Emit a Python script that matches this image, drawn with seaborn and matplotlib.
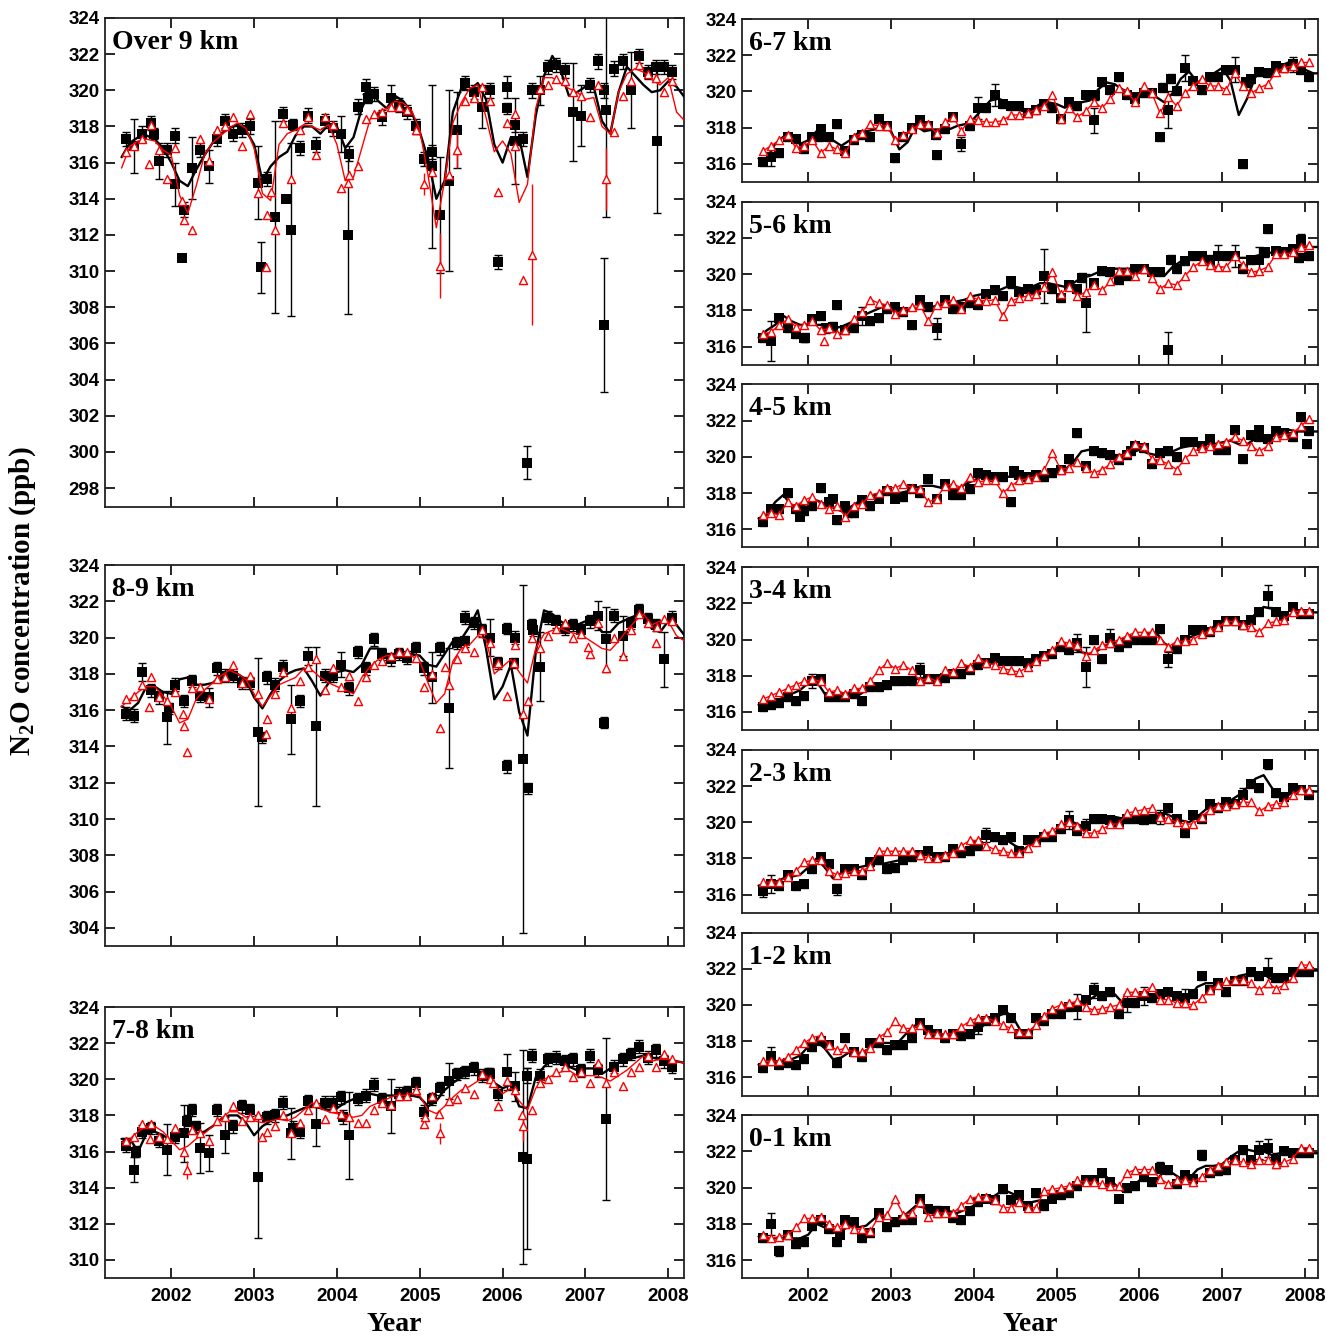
import numpy as np
import matplotlib
matplotlib.use("Agg")
import matplotlib.pyplot as plt
import seaborn as sns

# time axes (decimal year): observations and fitted curves
t_obs = np.round(np.arange(2001.45, 2008.06, 0.1), 2)
t_fit = np.round(np.arange(2001.4, 2008.21, 0.1), 2)

# ---------------- Over 9 km ----------------
over9_black = [317.3, 316.9, 317.6, 318.2, 316.1, 316.7, 317.5, 313.4, 315.7, 316.7,
               315.8, 317.3, 318.3, 317.6, 317.8, 318.0, 314.9, 315.1, 313.0, 318.7,
               312.3, 316.8, 318.6, 317.0, 318.3, 317.9, 317.6, 316.5, 319.1, 320.2,
               319.8, 318.5, 319.6, 319.2, 318.8, 318.0, 316.2, 315.8, 313.1, 315.0,
               317.8, 320.4, 319.9, 319.1, 320.0, 310.5, 320.2, 318.1, 317.3, 320.0,
               320.0, 321.3, 321.4, 321.1, 318.8, 318.6, 320.3, 321.6, 318.9, 321.2,
               321.6, 320.0, 321.9, 321.0, 321.3, 321.3, 321.0]
over9_err = {1: 1.5, 4: 1.0, 8: 1.7, 10: 0.9, 16: 2.0, 18: 5.3, 20: 4.8, 26: 1.0, 32: 0.7,
             37: 4.5, 38: 3.2, 39: 5.0, 40: 2.1, 43: 1.2, 46: 0.6, 50: 0.8, 54: 2.7, 55: 1.7,
             58: 5.9, 61: 2.1}
over9_extra = [(2001.79, 317.6, 0.3), (2002.04, 314.8, 1.2), (2002.13, 310.7, 0.0),
               (2003.08, 310.2, 1.4), (2003.39, 314.0, 0.0), (2003.47, 318.1, 0.3),
               (2004.13, 312.0, 4.4), (2004.37, 319.6, 0.3), (2005.15, 316.6, 0.4),
               (2006.05, 319.0, 0.3), (2006.15, 317.2, 2.4), (2006.30, 299.4, 0.9),
               (2007.22, 320.0, 0.4), (2007.22, 307.0, 3.7), (2007.86, 317.2, 4.0)]
over9_red = [316.6, 316.9, 317.3, 318.1, 316.7, 315.1, 316.8, 312.8, 312.3, 317.3,
             316.1, 317.8, 318.0, 318.5, 316.9, 318.7, 314.3, 313.1, 312.3, 318.2,
             315.1, 317.8, 318.5, 316.4, 318.5, 318.1, 314.6, 315.3, 315.8, 318.4,
             318.7, 318.8, 319.1, 319.1, 318.9, 317.8, 314.8, 315.5, 310.3, 315.3,
             316.7, 319.4, 319.6, 320.2, 319.4, 314.4, 318.2, 316.9, 309.5, 310.9,
             320.1, 320.3, 320.6, 320.5, 319.9, 319.7, 318.5, 320.3, 315.1, 317.7,
             319.7, 320.5, 321.4, 320.9, 320.7, 319.9, 320.5]
over9_red_err = {36: 0.6, 38: 1.8, 40: 1.0, 49: 3.9, 58: 1.7}
over9_red_extra = [(2001.73, 315.9, 0.0), (2002.13, 313.9, 0.0), (2003.14, 310.2, 0.0),
                   (2003.20, 314.4, 0.0), (2004.13, 314.9, 0.0), (2006.15, 318.7, 0.0)]
over9_fit = [316.3, 317.1, 317.4, 317.5, 317.3, 316.8, 316.0, 315.0, 314.7, 315.6,
             316.4, 317.1, 317.6, 317.9, 318.1, 317.8, 317.0, 315.0, 315.8, 316.3,
             316.6, 317.5, 318.0, 318.0, 317.6, 318.1, 318.0, 316.8, 317.4, 319.0,
             320.0, 319.4, 319.0, 319.7, 319.4, 318.8, 317.7, 316.2, 314.0, 315.0,
             318.8, 320.1, 320.0, 320.4, 319.5, 317.0, 316.0, 317.4, 317.4, 315.2,
             318.6, 320.8, 321.9, 321.1, 319.7, 319.9, 320.2, 320.2, 318.3, 317.6,
             319.9, 321.3, 320.8, 320.3, 319.9, 320.0, 320.5, 320.2, 319.6]
over9_redfit = [315.7, 316.9, 317.2, 317.3, 317.2, 316.7, 316.4, 314.2, 313.2, 314.7,
                316.4, 317.1, 317.5, 317.9, 318.2, 317.9, 316.8, 314.3, 313.9, 317.0,
                317.6, 317.8, 318.1, 318.0, 317.8, 318.1, 317.0, 315.0, 315.2, 316.8,
                318.4, 318.8, 319.0, 319.4, 319.3, 318.9, 317.8, 315.3, 312.4, 315.0,
                318.2, 319.3, 320.1, 320.3, 318.5, 316.6, 317.2, 316.5, 313.8, 314.8,
                319.0, 320.7, 320.7, 320.4, 320.1, 319.9, 319.5, 319.6, 318.0, 317.6,
                319.9, 320.9, 321.2, 321.0, 320.6, 320.3, 320.7, 318.8, 318.3]

# ---------------- 8-9 km ----------------
km89_black = [315.8, 315.7, 318.1, 317.1, 316.7, 315.6, 317.4, 316.5, 317.6, 316.8,
              316.7, 318.3, 317.9, 317.9, 317.5, 317.5, 314.8, 317.8, 317.4, 318.4,
              315.5, 316.5, 319.0, 315.1, 317.9, 317.9, 318.5, 317.2, 319.2, 318.3,
              319.9, 319.1, 318.8, 319.1, 318.9, 319.4, 318.3, 317.8, 319.4, 316.1,
              319.7, 321.1, 320.8, 320.4, 320.0, 318.6, 312.9, 320.0, 313.3, 320.7,
              318.4, 321.1, 320.9, 320.5, 320.7, 320.4, 320.9, 321.2, 319.9, 321.2,
              320.1, 320.8, 321.5, 321.0, 320.7, 318.8, 321.1]
km89_err = {2: 0.5, 5: 1.45, 10: 0.5, 16: 4.1, 20: 1.9, 22: 0.5, 23: 4.4, 26: 0.7, 37: 1.4,
            39: 3.3, 44: 1.0, 48: 9.6, 50: 1.9, 57: 0.8, 58: 1.8, 60: 1.1, 65: 1.5}
km89_extra = [(2001.97, 316.1, 0.3), (2003.09, 314.5, 0.3), (2005.55, 319.8, 0.3),
              (2006.05, 320.5, 0.3), (2006.14, 318.6, 0.3), (2006.31, 311.7, 0.3),
              (2006.37, 320.4, 0.3), (2007.22, 315.3, 0.3)]
km89_red = [316.6, 316.8, 317.4, 317.8, 316.7, 316.5, 317.0, 315.1, 317.2, 317.3,
            316.6, 317.7, 317.8, 318.5, 317.5, 317.9, 316.9, 315.5, 316.9, 318.1,
            316.1, 317.6, 318.4, 318.8, 317.1, 318.3, 317.3, 317.9, 316.5, 317.8,
            318.5, 318.7, 319.0, 319.2, 319.2, 318.9, 317.3, 318.0, 315.0, 317.4,
            318.8, 319.4, 319.2, 320.4, 319.7, 318.6, 316.8, 319.6, 315.8, 320.0,
            319.4, 320.1, 320.5, 320.8, 320.0, 320.2, 319.1, 320.8, 318.3, 320.0,
            319.0, 320.4, 321.3, 320.8, 319.7, 321.0, 320.9]
km89_red_extra = [(2001.73, 316.2, 0.0), (2002.14, 315.8, 0.0), (2002.19, 313.7, 0.0),
                  (2003.14, 314.7, 0.0), (2005.30, 318.4, 0.0), (2006.14, 318.6, 0.0),
                  (2006.31, 316.5, 0.0), (2007.03, 319.5, 0.0), (2007.86, 320.6, 0.0)]
km89_fit = [316.2, 316.0, 316.4, 317.3, 317.3, 317.0, 316.9, 317.7, 317.8, 317.4,
            317.4, 317.5, 317.9, 318.2, 318.0, 317.7, 316.7, 316.1, 316.9, 317.6,
            318.0, 318.2, 318.3, 317.6, 316.8, 317.5, 318.1, 318.2, 318.1, 318.5,
            319.4, 319.4, 319.1, 319.0, 319.1, 319.1, 319.0, 318.5, 318.4, 319.1,
            319.8, 319.9, 320.6, 321.5, 319.4, 316.6, 317.3, 318.5, 315.9, 314.6,
            319.2, 321.5, 321.3, 320.9, 320.6, 320.7, 320.9, 321.0, 320.3, 320.3,
            320.8, 321.0, 321.2, 321.1, 320.5, 320.3, 320.9, 320.7, 320.1]
km89_redfit = [316.2, 316.6, 317.0, 317.3, 317.3, 316.8, 316.2, 315.3, 315.5, 316.6,
               317.1, 317.5, 317.9, 318.2, 318.0, 317.7, 316.9, 316.2, 316.8, 317.4,
               317.6, 317.8, 318.3, 318.2, 317.8, 317.5, 317.3, 317.1, 316.9, 317.8,
               318.4, 318.8, 319.0, 319.0, 319.1, 319.0, 318.7, 317.5, 316.4, 316.9,
               318.7, 319.4, 319.6, 320.1, 319.9, 318.0, 318.4, 318.8, 318.1, 317.5,
               319.4, 320.2, 320.4, 320.5, 320.3, 320.2, 320.0, 319.7, 319.4, 319.3,
               319.8, 320.4, 320.9, 321.3, 320.7, 320.9, 320.9, 320.1, 319.8]

# ---------------- 7-8 km ----------------
km78_black = [316.3, 315.0, 317.1, 317.3, 316.6, 316.1, 316.8, 317.0, 318.3, 316.2,
              315.9, 318.3, 316.9, 317.4, 318.5, 318.3, 314.6, 317.9, 318.0, 318.7,
              317.0, 317.1, 318.8, 317.5, 318.7, 318.7, 319.0, 316.9, 318.9, 319.1,
              319.7, 318.9, 318.5, 319.2, 319.3, 319.8, 318.2, 318.9, 319.5, 319.9,
              320.3, 320.4, 320.6, 320.2, 320.3, 319.2, 320.4, 319.6, 315.7, 321.3,
              320.2, 321.1, 321.2, 321.0, 321.1, 320.5, 321.3, 320.5, 317.8, 320.7,
              321.1, 321.4, 321.8, 321.2, 321.6, 321.0, 320.7]
km78_err = {1: 0.7, 5: 1.4, 7: 1.6, 9: 1.4, 10: 1.0, 12: 1.0, 16: 3.4, 20: 1.4, 23: 1.2,
            27: 2.4, 32: 1.5, 39: 1.0, 46: 1.0, 47: 0.8, 48: 5.9, 58: 4.5}
km78_extra = [(2001.57, 316.0, 0.3), (2002.19, 317.7, 0.3), (2002.30, 317.4, 0.3),
              (2003.47, 317.3, 0.4), (2004.07, 317.9, 0.4), (2005.82, 320.3, 0.3),
              (2006.30, 315.6, 5.0), (2006.30, 320.2, 0.4)]
km78_red = [316.6, 316.8, 317.5, 317.5, 316.8, 316.7, 317.3, 316.0, 317.2, 317.0,
            316.6, 317.7, 317.9, 318.5, 317.7, 317.9, 318.0, 317.1, 317.4, 318.0,
            317.0, 317.6, 318.3, 318.7, 317.8, 318.4, 318.1, 317.9, 317.6, 317.6,
            318.3, 318.7, 318.6, 319.1, 319.1, 319.4, 317.5, 319.1, 317.0, 318.8,
            318.9, 319.5, 319.2, 320.3, 320.0, 318.5, 319.9, 319.4, 317.4, 318.3,
            319.8, 320.0, 320.4, 320.7, 320.1, 320.4, 319.8, 320.9, 319.8, 320.4,
            319.6, 320.4, 320.7, 321.3, 320.7, 321.4, 321.1]
km78_red_err = {38: 0.6, 48: 0.8}
km78_red_extra = [(2001.74, 316.7, 0.0), (2002.19, 315.0, 0.5), (2003.09, 316.8, 0.0),
                  (2005.06, 317.9, 0.0), (2005.23, 318.1, 0.0), (2005.89, 319.8, 0.0),
                  (2006.24, 318.0, 0.0)]
km78_fit = [316.7, 316.7, 316.0, 317.0, 317.1, 316.9, 316.6, 316.8, 317.1, 317.0,
            317.1, 317.4, 317.8, 318.0, 318.0, 317.6, 316.9, 317.4, 317.7, 317.9,
            318.0, 318.2, 318.4, 318.5, 318.4, 318.3, 318.4, 318.7, 318.9, 319.0,
            319.2, 319.1, 319.1, 319.1, 319.1, 319.1, 319.0, 318.5, 318.8, 319.4,
            319.8, 320.1, 320.4, 320.5, 320.2, 319.8, 319.5, 319.7, 318.5, 318.4,
            320.1, 320.7, 321.1, 320.9, 320.7, 320.5, 320.6, 320.6, 320.3, 320.6,
            320.9, 321.1, 321.2, 321.3, 321.2, 321.1, 321.0, 321.0, 320.9]
km78_redfit = [316.5, 316.7, 317.1, 317.4, 317.4, 317.1, 316.6, 316.1, 316.3, 316.7,
               317.0, 317.4, 317.8, 318.2, 318.2, 317.9, 317.7, 317.6, 317.7, 317.8,
               317.7, 317.9, 318.3, 318.7, 318.4, 318.2, 318.1, 318.0, 317.9, 318.0,
               318.5, 318.7, 318.9, 319.1, 319.1, 319.2, 319.1, 318.3, 318.1, 318.5,
               319.0, 319.4, 319.6, 319.9, 320.2, 319.7, 319.2, 319.5, 318.8, 318.3,
               319.5, 320.0, 320.2, 320.4, 320.5, 320.2, 320.2, 320.2, 320.1, 319.9,
               320.2, 320.5, 320.9, 321.3, 321.0, 321.1, 321.1, 321.0, 320.9]

# ---------------- 6-7 km ----------------
km67_black = [316.1, 316.4, 316.6, 317.5, 317.4, 316.8, 317.5, 317.9, 317.5, 318.2,
              316.7, 317.3, 317.6, 317.5, 318.5, 318.1, 316.3, 317.5, 318.0, 318.4,
              318.1, 316.5, 317.9, 318.6, 317.1, 318.1, 319.1, 319.1, 319.8, 319.3,
              319.2, 319.2, 318.8, 319.0, 319.3, 319.1, 318.5, 319.4, 319.2, 319.8,
              318.4, 320.5, 320.1, 320.8, 319.8, 319.6, 319.9, 319.9, 317.5, 319.0,
              320.0, 321.3, 320.6, 320.1, 320.8, 320.8, 321.2, 321.2, 316.0, 320.7,
              321.1, 321.0, 321.4, 321.3, 321.5, 321.2, 320.8]
km67_err = {1: 0.5, 24: 0.4, 26: 0.6, 28: 0.6, 40: 0.7, 49: 1.0, 51: 0.7, 57: 0.7, 64: 0.4}
km67_extra = [(2002.13, 317.5, 0.25), (2003.54, 317.6, 0.25), (2005.46, 319.8, 0.25),
              (2006.29, 320.2, 0.25), (2006.38, 320.7, 0.25), (2007.29, 320.5, 0.25)]
km67_red = [316.7, 317.0, 317.3, 317.6, 316.9, 317.0, 317.3, 316.6, 317.0, 316.8,
            316.6, 317.5, 317.7, 318.2, 318.1, 318.1, 317.3, 317.6, 317.9, 318.2,
            318.2, 317.7, 318.3, 318.6, 317.8, 318.5, 318.4, 318.3, 318.3, 318.4,
            318.7, 318.7, 318.8, 319.0, 319.2, 319.8, 318.5, 319.1, 318.6, 318.9,
            319.4, 319.1, 319.6, 320.2, 320.0, 319.4, 320.3, 319.9, 318.8, 319.7,
            319.2, 319.9, 320.3, 320.7, 320.3, 320.3, 320.1, 321.0, 320.3, 319.9,
            320.2, 320.4, 321.1, 321.3, 321.4, 321.6, 321.6]
km67_fit = [316.3, 316.3, 317.1, 317.5, 317.4, 317.1, 317.3, 317.8, 317.7, 317.3,
            317.0, 317.3, 317.7, 317.8, 317.9, 318.1, 317.8, 316.8, 317.2, 318.1,
            317.8, 317.9, 317.9, 317.9, 318.1, 318.2, 318.5, 319.0, 319.5, 319.6,
            319.4, 319.1, 318.9, 319.0, 319.3, 319.4, 319.3, 319.1, 319.3, 319.4,
            319.5, 320.1, 320.5, 320.4, 320.1, 319.9, 319.9, 319.8, 319.7, 319.4,
            319.9, 320.7, 321.1, 320.5, 320.7, 321.0, 321.3, 320.6, 318.7, 319.6,
            320.8, 321.1, 321.0, 321.4, 321.6, 321.5, 321.2, 321.0, 321.0]

# ---------------- 5-6 km ----------------
km56_black = [316.5, 316.3, 317.6, 317.0, 316.7, 316.5, 317.5, 317.7, 317.0, 318.3,
              316.9, 317.0, 317.7, 317.4, 317.6, 318.1, 318.2, 317.9, 317.2, 318.6,
              318.2, 317.0, 318.6, 318.1, 318.2, 318.4, 318.3, 318.9, 319.1, 318.8,
              319.6, 319.0, 319.2, 319.1, 319.9, 319.2, 318.7, 319.4, 319.2, 318.4,
              319.5, 320.2, 320.1, 319.7, 319.9, 320.3, 320.3, 320.1, 320.1, 315.8,
              320.3, 320.7, 321.0, 321.0, 320.7, 321.0, 321.0, 321.0, 320.3, 320.8,
              320.8, 322.5, 321.3, 321.2, 321.4, 321.9, 321.0]
km56_err = {1: 1.1, 12: 0.5, 21: 0.6, 34: 1.5, 39: 1.6, 49: 1.0, 55: 0.6, 57: 0.6, 60: 0.7,
            65: 0.3}
km56_extra = [(2001.96, 316.5, 0.25), (2002.21, 317.0, 0.25), (2002.30, 317.1, 0.25),
              (2004.45, 319.5, 0.25), (2005.31, 319.8, 0.25), (2006.38, 320.8, 0.25),
              (2007.52, 321.2, 0.25), (2007.93, 320.9, 0.25)]
km56_red = [316.7, 316.8, 317.2, 317.5, 317.1, 317.2, 317.4, 316.9, 317.0, 316.7,
            316.9, 317.5, 317.9, 318.6, 318.4, 318.3, 317.8, 318.0, 318.2, 318.3,
            317.4, 318.3, 318.4, 318.6, 318.1, 318.8, 318.6, 318.5, 318.6, 317.7,
            318.5, 318.7, 318.8, 318.9, 319.3, 320.1, 318.9, 319.3, 318.8, 319.0,
            319.4, 319.1, 319.6, 320.2, 320.2, 319.9, 320.3, 319.8, 319.2, 319.5,
            319.4, 319.9, 320.4, 320.7, 320.5, 320.4, 320.4, 321.0, 320.5, 320.1,
            320.2, 320.4, 321.1, 321.1, 321.2, 321.5, 321.6]
km56_red_extra = [(2002.19, 316.3, 0.0)]
km56_fit = [316.5, 316.9, 317.2, 317.7, 317.4, 317.2, 317.2, 317.2, 317.2, 317.0,
            317.1, 317.3, 317.5, 317.8, 318.0, 318.2, 318.2, 318.1, 318.0, 318.1,
            318.1, 318.2, 318.3, 318.4, 318.5, 318.6, 318.8, 318.9, 319.0, 319.1,
            319.3, 319.3, 319.2, 319.3, 319.5, 319.5, 319.4, 319.3, 319.5, 319.8,
            319.9, 320.1, 320.2, 320.3, 320.3, 320.3, 320.3, 320.2, 320.1, 319.9,
            320.4, 320.7, 320.9, 321.0, 321.0, 321.0, 321.0, 321.1, 320.9, 320.9,
            321.0, 321.1, 321.2, 321.4, 321.4, 321.5, 321.5, 321.5, 321.5]

# ---------------- 4-5 km ----------------
km45_black = [316.4, 317.1, 317.1, 318.0, 317.1, 317.0, 317.3, 318.3, 317.5, 316.5,
              317.3, 316.9, 317.6, 317.3, 317.7, 318.1, 317.7, 317.8, 318.2, 318.0,
              318.8, 317.7, 318.5, 317.9, 317.9, 318.2, 319.1, 319.0, 318.9, 318.9,
              317.5, 319.0, 318.9, 319.0, 318.9, 319.1, 319.3, 319.9, 321.3, 319.5,
              320.3, 320.2, 320.1, 319.8, 320.1, 320.6, 320.5, 319.6, 320.2, 320.3,
              320.0, 320.8, 320.8, 320.6, 321.0, 320.4, 320.4, 321.5, 319.9, 321.2,
              321.1, 321.0, 321.4, 321.3, 321.1, 322.2, 321.4]
km45_err = {}
km45_extra = [(2001.90, 316.7, 0.2), (2002.30, 317.7, 0.2), (2002.48, 316.9, 0.2),
              (2004.48, 319.2, 0.2), (2005.90, 320.3, 0.2), (2007.45, 321.5, 0.2),
              (2008.03, 320.7, 0.2)]
km45_red = [316.8, 316.9, 316.8, 317.5, 317.3, 317.6, 317.8, 317.4, 317.1, 317.3,
            316.7, 317.3, 317.4, 317.9, 318.0, 318.3, 318.3, 318.5, 318.3, 318.2,
            317.5, 317.7, 318.4, 318.5, 318.3, 318.9, 318.6, 318.7, 318.7, 318.0,
            318.4, 318.7, 318.8, 318.9, 319.3, 320.2, 319.3, 319.4, 319.7, 319.4,
            319.1, 319.3, 319.6, 320.0, 320.2, 320.7, 320.6, 319.9, 319.8, 319.6,
            319.3, 319.9, 320.3, 320.5, 320.6, 320.7, 320.8, 321.1, 320.9, 320.6,
            320.3, 320.6, 321.1, 321.2, 321.3, 321.7, 322.1]
km45_fit = [316.6, 316.8, 317.5, 317.9, 317.3, 317.3, 317.4, 317.6, 317.4, 317.2,
            317.0, 317.2, 317.5, 317.7, 317.9, 318.0, 318.0, 318.0, 318.1, 318.3,
            318.4, 318.4, 318.3, 318.2, 318.2, 318.5, 318.7, 318.9, 318.9, 318.9,
            318.9, 318.9, 318.9, 318.9, 319.0, 319.0, 319.1, 319.3, 319.7, 320.3,
            320.4, 320.3, 320.2, 320.1, 320.1, 320.2, 320.4, 320.2, 320.1, 320.2,
            320.3, 320.5, 320.6, 320.7, 320.7, 320.7, 320.8, 320.9, 320.7, 320.7,
            321.0, 320.9, 321.1, 321.4, 321.5, 321.4, 321.4, 321.4, 321.4]

# ---------------- 3-4 km ----------------
km34_black = [316.3, 316.4, 316.5, 316.8, 316.6, 316.9, 317.7, 317.8, 316.8, 316.8,
              316.8, 317.0, 316.6, 317.4, 317.4, 317.5, 317.7, 317.7, 317.7, 318.3,
              317.8, 317.8, 317.9, 318.1, 318.1, 318.3, 318.6, 318.7, 319.0, 318.8,
              318.8, 318.8, 318.7, 318.9, 319.1, 319.2, 319.6, 319.4, 319.8, 318.5,
              320.0, 318.9, 320.1, 319.6, 319.8, 320.0, 320.0, 320.0, 320.6, 318.9,
              319.5, 320.0, 320.5, 320.5, 320.4, 320.8, 321.0, 321.0, 320.8, 321.1,
              321.5, 322.4, 321.5, 321.3, 321.8, 321.4, 321.4]
km34_err = {6: 0.4, 19: 0.4, 38: 0.5, 39: 1.1, 42: 0.5, 49: 0.4, 61: 0.6}
km34_red = [316.7, 316.9, 317.1, 317.3, 317.5, 317.7, 317.8, 317.7, 317.1, 317.2,
            317.0, 317.3, 317.3, 317.7, 318.3, 318.7, 318.4, 318.6, 318.3, 317.7,
            317.9, 317.7, 318.3, 318.2, 318.7, 318.5, 319.0, 318.7, 318.6, 318.4,
            318.3, 318.2, 318.5, 318.8, 319.1, 319.4, 319.9, 319.8, 319.7, 319.1,
            319.4, 319.7, 319.8, 320.0, 320.2, 320.4, 320.4, 320.4, 320.0, 319.6,
            319.9, 319.9, 320.0, 320.3, 320.5, 320.7, 321.0, 321.0, 320.8, 320.7,
            320.4, 320.9, 321.0, 321.1, 321.5, 321.6, 321.6]
km34_fit = [316.4, 316.4, 316.6, 316.8, 317.0, 317.2, 317.6, 317.7, 317.0, 316.9,
            316.9, 317.0, 316.9, 317.2, 317.4, 317.5, 317.6, 317.7, 317.8, 317.8,
            317.9, 317.9, 317.9, 318.0, 318.1, 318.3, 318.5, 318.7, 318.7, 318.8,
            318.8, 318.8, 318.8, 318.8, 319.0, 319.2, 319.5, 319.6, 319.5, 319.3,
            319.2, 319.4, 319.7, 319.8, 319.9, 320.0, 320.1, 320.3, 320.4, 319.8,
            319.5, 319.7, 320.1, 320.3, 320.5, 320.7, 320.8, 320.9, 321.0, 321.0,
            321.4, 321.8, 321.7, 321.4, 321.3, 321.6, 321.5, 321.5, 321.5]

# ---------------- 2-3 km ----------------
km23_black = [316.2, 316.6, 316.5, 317.1, 316.5, 316.6, 317.4, 318.1, 317.7, 316.3,
              317.4, 317.4, 317.1, 317.8, 317.9, 317.4, 317.5, 317.9, 318.1, 318.2,
              318.4, 318.1, 318.1, 318.5, 318.3, 318.4, 318.7, 319.3, 319.2, 319.0,
              319.2, 318.4, 319.0, 319.0, 319.2, 319.2, 319.6, 320.1, 319.5, 319.8,
              320.2, 320.2, 320.1, 320.0, 320.2, 320.2, 320.1, 320.2, 320.3, 320.8,
              320.2, 319.4, 320.4, 320.2, 321.0, 320.8, 321.1, 321.0, 321.5, 322.1,
              321.9, 323.2, 321.6, 321.4, 321.9, 321.8, 321.5]
km23_err = {0: 0.3, 1: 0.5, 9: 0.3, 27: 0.4, 37: 0.5, 39: 0.4, 48: 0.4, 58: 0.4, 61: 0.25}
km23_red = [316.7, 316.7, 316.7, 317.0, 317.3, 317.8, 317.9, 317.9, 317.3, 317.1,
            317.2, 317.3, 317.3, 317.6, 318.4, 318.4, 318.4, 318.4, 318.4, 318.2,
            318.0, 318.0, 318.2, 318.3, 318.7, 319.0, 319.0, 318.7, 318.5, 318.4,
            318.3, 318.3, 318.6, 318.9, 319.4, 319.5, 319.9, 320.0, 319.8, 319.4,
            319.4, 319.6, 319.9, 319.9, 320.5, 320.6, 320.7, 320.8, 320.3, 320.2,
            320.0, 319.9, 319.9, 320.3, 320.7, 320.9, 320.9, 321.0, 321.1, 321.1,
            320.6, 320.9, 321.0, 321.1, 321.5, 321.8, 321.8]
km23_fit = [316.5, 316.6, 316.7, 316.9, 317.0, 317.1, 317.5, 318.0, 317.5, 316.9,
            317.2, 317.4, 317.5, 317.6, 317.7, 317.7, 317.8, 317.9, 318.0, 318.2,
            318.3, 318.3, 318.2, 318.3, 318.4, 318.5, 318.8, 319.1, 319.2, 319.1,
            319.0, 318.7, 318.5, 318.8, 319.1, 319.3, 319.5, 319.8, 320.0, 319.8,
            320.0, 320.2, 320.3, 320.3, 320.2, 320.2, 320.2, 320.3, 320.4, 320.5,
            320.3, 320.1, 320.0, 320.3, 320.7, 320.9, 321.0, 321.2, 321.5, 321.9,
            322.4, 322.6, 321.9, 321.4, 321.5, 321.8, 321.7, 321.7, 321.7]

# ---------------- 1-2 km ----------------
km12_black = [316.5, 317.2, 316.7, 316.8, 316.7, 317.0, 317.7, 318.0, 317.8, 316.8,
              318.2, 317.4, 317.1, 317.9, 317.9, 317.5, 317.8, 317.8, 318.2, 319.0,
              318.6, 318.4, 318.2, 318.4, 318.3, 318.4, 318.8, 319.1, 319.3, 319.7,
              319.3, 318.4, 318.4, 319.3, 319.1, 319.5, 319.5, 319.9, 319.9, 320.3,
              320.8, 320.5, 320.7, 319.5, 320.1, 320.1, 320.5, 320.4, 320.6, 320.7,
              320.5, 320.4, 320.6, 321.6, 320.8, 321.2, 320.7, 321.3, 321.3, 321.8,
              321.6, 321.8, 321.5, 321.5, 321.8, 321.8, 321.8]
km12_err = {1: 0.5, 26: 0.4, 38: 0.7, 40: 0.4, 44: 0.5, 46: 0.5, 51: 0.5, 61: 0.8}
km12_red = [316.9, 316.9, 316.9, 317.1, 317.5, 317.9, 318.2, 318.3, 317.8, 317.5,
            317.6, 317.4, 317.4, 317.6, 318.2, 318.5, 319.1, 318.7, 318.7, 318.9,
            318.4, 318.4, 318.4, 318.4, 318.8, 319.1, 319.3, 319.3, 319.1, 318.9,
            318.7, 318.5, 318.5, 318.9, 319.4, 319.8, 320.0, 320.1, 320.2, 319.9,
            319.7, 319.8, 319.9, 320.0, 320.7, 320.7, 320.7, 321.0, 320.3, 320.3,
            320.1, 320.1, 320.0, 320.4, 320.8, 321.1, 321.3, 321.4, 321.4, 321.2,
            320.8, 321.2, 320.9, 321.1, 321.5, 322.2, 322.2]
km12_fit = [316.7, 316.8, 316.8, 316.9, 317.0, 317.2, 317.7, 318.0, 317.6, 317.0,
            317.1, 317.4, 317.2, 317.5, 317.7, 317.9, 317.9, 318.0, 318.5, 318.9,
            318.7, 318.5, 318.3, 318.2, 318.2, 318.3, 318.5, 318.8, 319.2, 319.4,
            319.6, 319.1, 318.3, 318.6, 319.0, 319.3, 319.5, 319.7, 320.0, 320.2,
            320.3, 320.6, 320.7, 320.6, 320.1, 320.2, 320.4, 320.5, 320.6, 320.6,
            320.5, 320.4, 320.4, 321.0, 321.2, 321.2, 321.1, 321.3, 321.6, 321.7,
            321.8, 321.7, 321.4, 321.4, 321.7, 321.9, 321.9, 321.9, 321.9]

# ---------------- 0-1 km ----------------
km01_black = [317.2, 318.0, 316.5, 317.4, 316.9, 317.0, 317.9, 318.2, 317.7, 317.0,
              318.2, 318.1, 317.2, 317.5, 318.6, 317.8, 318.1, 318.2, 318.2, 319.4,
              318.8, 318.7, 318.7, 318.3, 318.2, 318.7, 319.2, 319.4, 319.3, 319.9,
              319.3, 319.6, 319.0, 319.7, 319.0, 319.4, 319.6, 319.7, 320.1, 320.4,
              320.4, 320.8, 320.3, 319.4, 320.0, 320.1, 320.6, 320.3, 321.1, 321.0,
              320.2, 320.7, 320.5, 321.8, 320.8, 320.9, 321.0, 321.5, 322.1, 321.5,
              322.1, 322.2, 321.5, 322.0, 321.9, 321.9, 321.9]
km01_err = {1: 0.6, 2: 0.3, 21: 0.3, 48: 0.3, 53: 0.3, 60: 0.5, 61: 0.5, 62: 0.4}
km01_extra = [(2002.38, 317.4, 0.2)]
km01_red = [317.4, 317.2, 317.3, 317.4, 317.8, 318.3, 318.3, 318.4, 318.0, 317.8,
            318.0, 317.7, 317.7, 317.6, 318.4, 318.5, 319.4, 318.5, 318.6, 319.2,
            318.4, 318.6, 318.6, 318.6, 319.0, 319.4, 319.5, 319.5, 319.3, 318.9,
            318.9, 319.2, 318.9, 318.9, 319.8, 319.9, 320.0, 320.1, 320.4, 320.3,
            320.3, 320.2, 320.1, 320.1, 320.8, 321.0, 321.0, 321.0, 320.5, 320.2,
            320.4, 320.4, 320.3, 320.6, 321.0, 321.2, 321.4, 321.5, 321.4, 321.3,
            321.5, 321.5, 321.3, 321.4, 321.6, 322.2, 322.2]
km01_fit = [317.3, 317.2, 317.2, 317.2, 317.2, 317.2, 317.4, 318.0, 317.8, 317.5,
            317.6, 317.9, 317.8, 317.9, 318.3, 318.3, 318.3, 318.3, 318.6, 319.0,
            318.9, 318.8, 318.7, 318.7, 318.6, 318.8, 319.0, 319.2, 319.4, 319.7,
            319.8, 319.6, 319.2, 319.2, 319.3, 319.3, 319.5, 319.8, 320.1, 320.3,
            320.4, 320.6, 320.6, 320.2, 319.8, 320.0, 320.4, 320.5, 320.4, 320.9,
            320.8, 320.5, 320.5, 321.0, 321.2, 321.2, 321.3, 321.7, 322.0, 322.1,
            322.0, 322.0, 321.8, 321.9, 321.9, 321.9, 321.9, 321.9, 321.9]

years = [2002, 2003, 2004, 2005, 2006, 2007, 2008]

W, H = 1326, 1340


def rect(x0, y0, x1, y1):
    return [x0 / W, 1 - y1 / H, (x1 - x0) / W, (y1 - y0) / H]


right_tops = [19 + 182.7 * i for i in range(7)]

panels = [
    dict(label="Over 9 km", box=rect(105, 18, 684, 507), ylim=(296.95, 324), ytick0=298,
         xlim=(2001.20, 2008.19), black=over9_black, err=over9_err, err0=0.4, extra=over9_extra,
         red=over9_red, red_err=over9_red_err, red_extra=over9_red_extra,
         fit=over9_fit, redfit=over9_redfit, bottom=False),
    dict(label="8-9 km", box=rect(105, 565, 684, 946), ylim=(303, 324), ytick0=304,
         xlim=(2001.20, 2008.19), black=km89_black, err=km89_err, err0=0.35, extra=km89_extra,
         red=km89_red, red_err={}, red_extra=km89_red_extra,
         fit=km89_fit, redfit=km89_redfit, bottom=False),
    dict(label="7-8 km", box=rect(105, 1007, 684, 1278), ylim=(309, 324), ytick0=310,
         xlim=(2001.20, 2008.19), black=km78_black, err=km78_err, err0=0.35, extra=km78_extra,
         red=km78_red, red_err=km78_red_err, red_extra=km78_red_extra,
         fit=km78_fit, redfit=km78_redfit, bottom=True),
]
right_data = [
    ("6-7 km", km67_black, km67_err, km67_extra, km67_red, [], km67_fit),
    ("5-6 km", km56_black, km56_err, km56_extra, km56_red, km56_red_extra, km56_fit),
    ("4-5 km", km45_black, km45_err, km45_extra, km45_red, [], km45_fit),
    ("3-4 km", km34_black, km34_err, [], km34_red, [], km34_fit),
    ("2-3 km", km23_black, km23_err, [], km23_red, [], km23_fit),
    ("1-2 km", km12_black, km12_err, [], km12_red, [], km12_fit),
    ("0-1 km", km01_black, km01_err, km01_extra, km01_red, [], km01_fit),
]
for i, (lab, blk, er, ex, rd, rex, ft) in enumerate(right_data):
    top = right_tops[i]
    panels.append(dict(label=lab, box=rect(742, top, 1318, top + 163), ylim=(315, 324),
                       ytick0=316, xlim=(2001.20, 2008.157), black=blk, err=er, err0=0.22,
                       extra=ex, red=rd, red_err={}, red_extra=rex, fit=ft, redfit=None,
                       bottom=(i == 6)))

for p in panels:
    assert len(p["black"]) == len(t_obs), p["label"]
    assert len(p["red"]) == len(t_obs), p["label"]
    assert len(p["fit"]) == len(t_fit), p["label"]
    if p["redfit"] is not None:
        assert len(p["redfit"]) == len(t_fit), p["label"]

sns.set_theme(style="ticks")
plt.rcParams["font.family"] = ["Liberation Sans", "DejaVu Sans"]
plt.rcParams["font.weight"] = "bold"
plt.rcParams["text.color"] = "black"
plt.rcParams["axes.labelcolor"] = "black"
plt.rcParams["xtick.color"] = "black"
plt.rcParams["ytick.color"] = "black"
plt.rcParams["mathtext.fontset"] = "custom"
plt.rcParams["mathtext.rm"] = "Liberation Serif:bold"
plt.rcParams["mathtext.default"] = "rm"

serif = ["Liberation Serif", "DejaVu Serif"]

fig = plt.figure(figsize=(W / 100, H / 100), dpi=100)

for p in panels:
    ax = fig.add_axes(p["box"])
    ax.set_facecolor("white")

    # black measurements with error bars
    err = np.full(len(t_obs), p["err0"])
    for k, e in p["err"].items():
        err[k] = e
    ax.errorbar(t_obs, p["black"], yerr=err, fmt="none", ecolor="black",
                elinewidth=1.0, capsize=3, capthick=1.0, zorder=2)
    if p["extra"]:
        ex_t = [e[0] for e in p["extra"]]
        ex_v = [e[1] for e in p["extra"]]
        ex_e = [e[2] for e in p["extra"]]
        ax.errorbar(ex_t, ex_v, yerr=ex_e, fmt="none", ecolor="black",
                    elinewidth=1.0, capsize=3, capthick=1.0, zorder=2)
    else:
        ex_t, ex_v = [], []
    sns.scatterplot(x=np.r_[t_obs, ex_t], y=np.r_[p["black"], ex_v], marker="s",
                    color="black", s=46, linewidth=0, ax=ax, zorder=3, legend=False)
    sns.lineplot(x=t_fit, y=p["fit"], color="black", lw=1.7, ax=ax, zorder=4)

    # red model values
    if p["redfit"] is not None:
        sns.lineplot(x=t_fit, y=p["redfit"], color="red", lw=1.0, ax=ax, zorder=5)
    else:
        sns.lineplot(x=t_obs, y=p["red"], color="red", lw=1.0, ax=ax, zorder=5)
    if p["red_err"]:
        ks = list(p["red_err"].keys())
        ax.errorbar(t_obs[ks], np.array(p["red"])[ks], yerr=list(p["red_err"].values()),
                    fmt="none", ecolor="red", elinewidth=1.0, capsize=0, zorder=5)
    rx_t = [e[0] for e in p["red_extra"]]
    rx_v = [e[1] for e in p["red_extra"]]
    rx_e = [e[2] for e in p["red_extra"]]
    if any(e > 0 for e in rx_e):
        ax.errorbar(rx_t, rx_v, yerr=rx_e, fmt="none", ecolor="red",
                    elinewidth=1.0, capsize=0, zorder=5)
    sns.scatterplot(x=np.r_[t_obs, rx_t], y=np.r_[p["red"], rx_v], marker="^",
                    color="white", edgecolor="red", s=34, linewidth=1.0, ax=ax,
                    zorder=6, legend=False)

    ax.set_xlim(*p["xlim"])
    ax.set_ylim(*p["ylim"])
    ax.set_xticks(years)
    ax.set_yticks(np.arange(p["ytick0"], 325, 2))
    ax.tick_params(direction="in", length=7, width=1.2, top=True, right=True,
                   labelsize=13.5, pad=4, colors="black")
    ax.tick_params(axis="x", pad=7)
    ax.set_xlabel("")
    ax.set_ylabel("")
    if p["bottom"]:
        ax.set_xlabel("Year", fontsize=20, fontweight="bold", family=serif, labelpad=5)
    else:
        ax.tick_params(axis="x", labelbottom=False)
    for sp in ax.spines.values():
        sp.set_linewidth(1.3)
        sp.set_color("#222222")
        sp.set_visible(True)
    ax.annotate(p["label"], xy=(0, 1), xycoords="axes fraction", xytext=(7, -12),
                textcoords="offset pixels", ha="left", va="top", fontsize=20,
                fontweight="bold", family=serif, color="black", zorder=10)

fig.text(0.017, 0.551, r"N$_2$O concentration (ppb)", rotation=90, ha="center",
         va="center", fontsize=21, fontweight="bold", family=serif, color="black")

fig.savefig("out.png", dpi=100, facecolor="white")
